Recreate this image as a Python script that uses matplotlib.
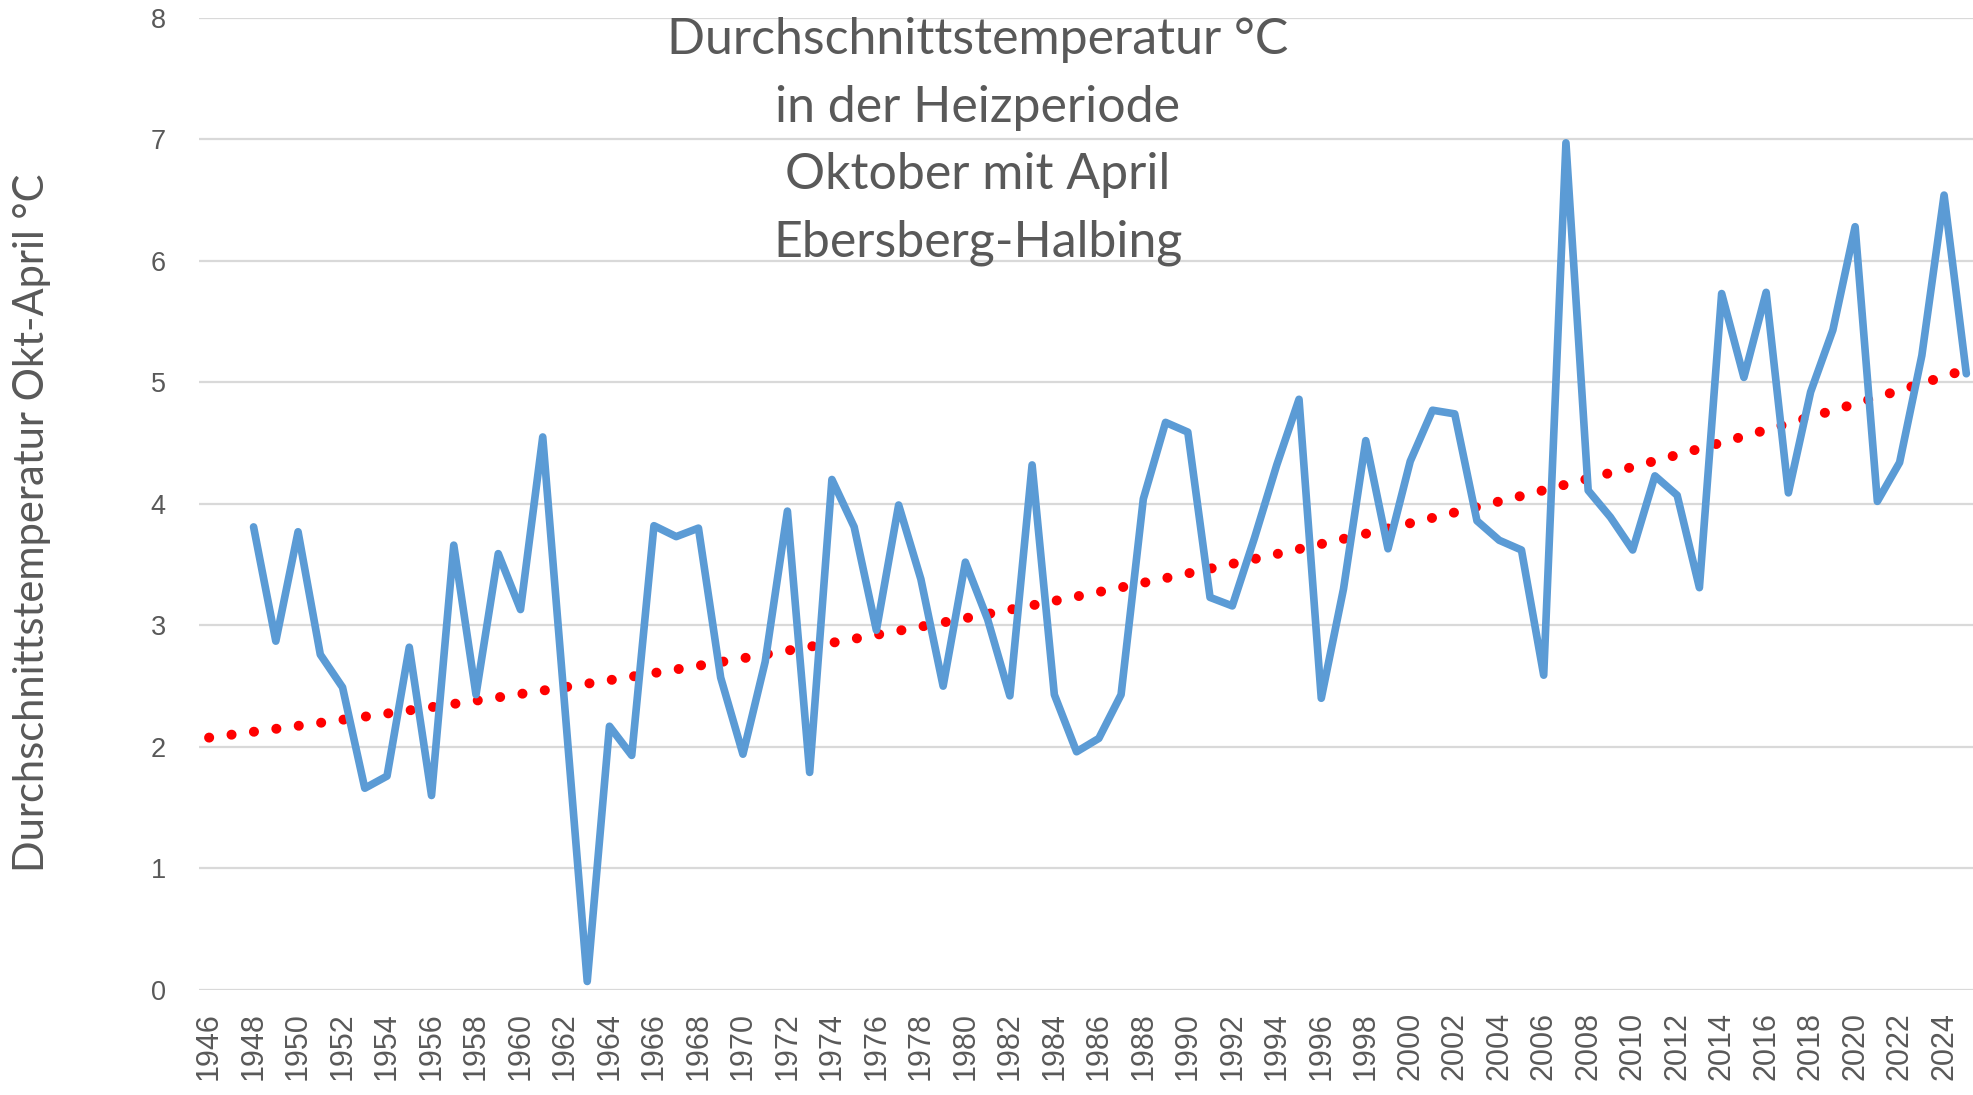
import numpy as np
import matplotlib
matplotlib.use("Agg")
import matplotlib.pyplot as plt

years = list(range(1946, 2026))
temps = [np.nan, np.nan,
         3.81, 2.87, 3.77, 2.76, 2.49, 1.66, 1.76, 2.82, 1.60, 3.66,
         2.43, 3.59, 3.13, 4.55, 2.31, 0.07, 2.17, 1.93, 3.82, 3.73,
         3.80, 2.57, 1.94, 2.70, 3.94, 1.79, 4.20, 3.81, 2.96, 3.99,
         3.38, 2.50, 3.52, 3.05, 2.42, 4.32, 2.43, 1.96, 2.07, 2.43,
         4.04, 4.67, 4.59, 3.23, 3.16, 3.72, 4.32, 4.86, 2.40, 3.30,
         4.52, 3.63, 4.35, 4.77, 4.74, 3.86, 3.70, 3.62, 2.59, 6.97,
         4.11, 3.89, 3.62, 4.23, 4.07, 3.31, 5.73, 5.04, 5.74, 4.09,
         4.92, 5.43, 6.28, 4.02, 4.34, 5.22, 6.54, 5.07]
tick_years = list(range(1946, 2025, 2))
y_ticks = list(range(0, 9))

title = "Durchschnittstemperatur °C\nin der Heizperiode\nOktober mit April\nEbersberg-Halbing"
ylabel = "Durchschnittstemperatur Okt-April °C"

x = np.array(years, dtype=float)
y = np.array(temps, dtype=float)
mask = ~np.isnan(y)
# exponential trendline (least squares on log values, like a spreadsheet)
b, ln_a = np.polyfit(x[mask] - 1946, np.log(y[mask]), 1)
trend = np.exp(ln_a + b * (x - 1946))

fig = plt.figure(figsize=(19.73, 10.95), dpi=100)
ax = fig.add_axes([0.1009, 0.0959, 0.8991, 0.888])

grey = "#595959"
for v in y_ticks:
    ax.axhline(v, color="#D9D9D9", lw=1.6, zorder=0)

ax.plot(x, trend, color="#FF0000", lw=7.2,
        linestyle=(0, (0.01, 2.25)), dash_capstyle="round", zorder=2)
ax.plot(x, y, color="#5B9BD5", lw=5.5, solid_joinstyle="round",
        solid_capstyle="round", zorder=3)

ax.set_xlim(1945.55, 2025.3)
ax.set_ylim(0, 8)
ax.set_yticks(y_ticks)
ax.set_yticklabels([str(v) for v in y_ticks], fontsize=19.5, color=grey,
                   family="Liberation Sans")
ax.set_xticks(tick_years)
ax.set_xticklabels([str(t) for t in tick_years], rotation=90, fontsize=22,
                   color=grey, family="Liberation Sans")
ax.tick_params(axis="y", length=0, pad=24)
ax.tick_params(axis="x", length=0, pad=16)
for s in ax.spines.values():
    s.set_visible(False)
ax.set_facecolor("white")

fig.text(0.016, 0.523, ylabel, rotation=90, ha="center", va="center",
         fontsize=30, color=grey, family="Lato")
fig.text(0.4955, 0.8705, title, ha="center", va="center",
         fontsize=36, color=grey, family="Lato", linespacing=1.58, zorder=1)

fig.savefig("out.png", dpi=100, facecolor="white")
